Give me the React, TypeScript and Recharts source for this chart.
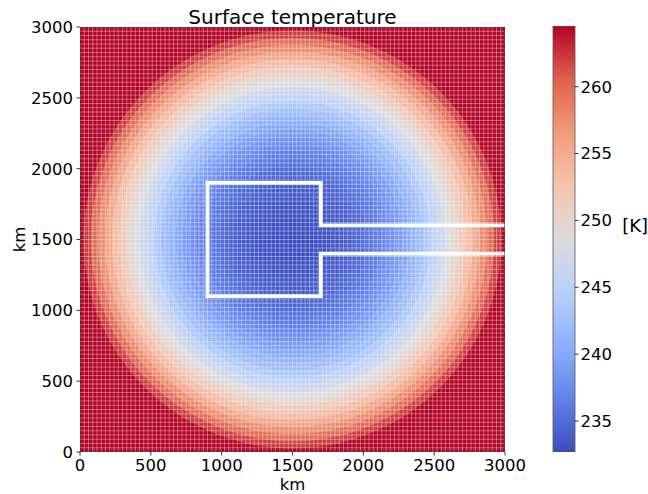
import React from 'react';
import { ScatterChart, Scatter, XAxis, YAxis, BarChart, Bar } from 'recharts';

// ---------- data ----------
// Radial temperature profile: distance from the domain centre (km) -> surface temperature (K)
const profileRadiusKm = [
  0, 50, 100, 150, 200, 250, 300, 350, 400, 450, 500, 550, 600, 650, 700, 750,
  800, 850, 900, 950, 1000, 1050, 1100, 1150, 1200, 1250, 1300, 1350, 1400, 1450, 1500, 2150,
];
const profileTempK = [
  232.7, 232.7, 232.75, 232.8, 232.95, 233.1, 233.4, 233.7, 234.0, 234.5, 235.0, 235.6, 236.2, 237.0, 237.8, 238.7,
  239.7, 240.8, 242.0, 243.4, 244.9, 246.5, 248.2, 249.9, 251.7, 253.6, 255.6, 257.7, 259.8, 262.1, 264.5, 264.5,
];
const CENTER_X_KM = 1500;
const CENTER_Y_KM = 1500;

// white outline (polyline)
const outlineXKm = [3000, 1700, 1700, 900, 900, 1700, 1700, 3000];
const outlineYKm = [1400, 1400, 1100, 1100, 1900, 1900, 1600, 1600];

// axis ticks
const xTicks = [0, 500, 1000, 1500, 2000, 2500, 3000];
const yTicks = [0, 500, 1000, 1500, 2000, 2500, 3000];
const colorbarTicks = [235, 240, 245, 250, 255, 260];
const T_MIN = 232.68;
const T_MAX = 264.54;
const DOMAIN_KM = 3000;
const CELL_KM = 30; // mesh cell size (100 x 100 cells)
const gridEdgesKm = Array.from({ length: DOMAIN_KM / CELL_KM + 1 }, (_, i) => i * CELL_KM);
const colorbarData = [{ name: 'T', range: [T_MIN, T_MAX] }];

// ---------- styling ----------
const FONT = '"DejaVu Sans", Verdana, sans-serif';
const FS = 16.5;
const W = 648;
const H = 494;
const PLOT_LEFT = 80;
const PLOT_RIGHT = 505;
const PLOT_TOP = 27;
const PLOT_BOTTOM = 452;
const PX_PER_KM = (PLOT_RIGHT - PLOT_LEFT) / DOMAIN_KM;
const RING_HALF_KM = 25;

const COOLWARM: number[][] = [
  [59, 76, 192],
  [98, 130, 234],
  [141, 176, 254],
  [184, 208, 249],
  [221, 220, 220],
  [244, 196, 173],
  [244, 154, 123],
  [222, 96, 77],
  [180, 4, 38],
];

function coolwarm(t: number): string {
  let f = (t - T_MIN) / (T_MAX - T_MIN);
  f = Math.max(0, Math.min(1, f));
  const pos = f * (COOLWARM.length - 1);
  const i = Math.min(COOLWARM.length - 2, Math.floor(pos));
  const w = pos - i;
  const a = COOLWARM[i];
  const b = COOLWARM[i + 1];
  const c = a.map((v, k) => Math.round(v + (b[k] - v) * w));
  return `rgb(${c[0]},${c[1]},${c[2]})`;
}

// ---------- derived tables ----------
const rings = profileRadiusKm
  .map((r, i) => ({ x: CENTER_X_KM, y: CENTER_Y_KM, r, t: profileTempK[i] }))
  .reverse();

const verticalGrid: { x: number; y: number }[] = [];
gridEdgesKm.forEach((e, i) => {
  if (i % 2 === 0) verticalGrid.push({ x: e, y: 0 }, { x: e, y: DOMAIN_KM });
  else verticalGrid.push({ x: e, y: DOMAIN_KM }, { x: e, y: 0 });
});
const horizontalGrid: { x: number; y: number }[] = [];
gridEdgesKm.forEach((e, i) => {
  if (i % 2 === 0) horizontalGrid.push({ x: 0, y: e }, { x: DOMAIN_KM, y: e });
  else horizontalGrid.push({ x: DOMAIN_KM, y: e }, { x: 0, y: e });
});
const outline = outlineXKm.map((x, i) => ({ x, y: outlineYKm[i] }));
const frame = [
  { x: 0, y: 0 },
  { x: DOMAIN_KM, y: 0 },
  { x: DOMAIN_KM, y: DOMAIN_KM },
  { x: 0, y: DOMAIN_KM },
  { x: 0, y: 0 },
];

const noShape = () => <g />;
const ringShape = (p: any) => (
  <circle
    cx={p.cx}
    cy={p.cy}
    r={(p.payload.r + RING_HALF_KM) * PX_PER_KM}
    fill={coolwarm(p.payload.t)}
    stroke="none"
  />
);

const tickStyle = { fontSize: FS, fill: '#000', fontFamily: FONT };

export default function App() {
  return (
    <div style={{ position: 'absolute', left: 0, top: 0, width: W, height: H, background: '#fff' }}>
      <div style={{ position: 'absolute', left: 0, top: 0 }}>
        <ScatterChart
          width={W}
          height={H}
          margin={{ top: PLOT_TOP, right: W - PLOT_RIGHT, bottom: 0, left: 0 }}
        >
          <text x={(PLOT_LEFT + PLOT_RIGHT) / 2} y={24} textAnchor="middle" fontSize={20} fontFamily={FONT} fill="#000">
            Surface temperature
          </text>
          <XAxis
            type="number"
            dataKey="x"
            domain={[0, DOMAIN_KM]}
            ticks={xTicks}
            interval={0}
            allowDataOverflow
            height={H - PLOT_BOTTOM}
            tick={tickStyle}
            tickSize={3.5}
            tickMargin={4}
            tickLine={{ stroke: '#000', strokeWidth: 0.8 }}
            axisLine={false}
            label={{ value: 'km', position: 'insideBottom', offset: 4, fontSize: FS, fill: '#000', fontFamily: FONT }}
          />
          <YAxis
            type="number"
            dataKey="y"
            domain={[0, DOMAIN_KM]}
            ticks={yTicks}
            interval={0}
            allowDataOverflow
            width={PLOT_LEFT}
            tick={tickStyle}
            tickSize={3.5}
            tickMargin={3.5}
            tickLine={{ stroke: '#000', strokeWidth: 0.8 }}
            axisLine={false}
            label={{
              value: 'km',
              angle: -90,
              position: 'insideLeft',
              offset: 19,
              fontSize: FS,
              fill: '#000',
              fontFamily: FONT,
              style: { textAnchor: 'middle' },
            }}
          />
          <Scatter data={rings} shape={ringShape} isAnimationActive={false} />
          <Scatter
            data={verticalGrid}
            shape={noShape}
            line={{ stroke: '#fff', strokeWidth: 0.6, strokeOpacity: 0.6 }}
            isAnimationActive={false}
          />
          <Scatter
            data={horizontalGrid}
            shape={noShape}
            line={{ stroke: '#fff', strokeWidth: 0.6, strokeOpacity: 0.6 }}
            isAnimationActive={false}
          />
          <Scatter
            data={outline}
            shape={noShape}
            line={{ stroke: '#fff', strokeWidth: 3.8, strokeLinejoin: 'miter' }}
            isAnimationActive={false}
          />
          <Scatter
            data={frame}
            shape={noShape}
            line={{ stroke: '#000', strokeWidth: 0.8 }}
            isAnimationActive={false}
          />
        </ScatterChart>
      </div>
      <div style={{ position: 'absolute', left: 540, top: 0 }}>
        <BarChart
          width={108}
          height={H}
          data={colorbarData}
          margin={{ top: 26, right: 0, bottom: H - PLOT_BOTTOM, left: 13 }}
          barCategoryGap={0}
        >
          <defs>
            <linearGradient id="coolwarmGrad" x1="0" y1="1" x2="0" y2="0">
              {COOLWARM.map((c, i) => (
                <stop key={i} offset={i / (COOLWARM.length - 1)} stopColor={`rgb(${c[0]},${c[1]},${c[2]})`} />
              ))}
            </linearGradient>
          </defs>
          <XAxis dataKey="name" hide />
          <YAxis
            type="number"
            orientation="right"
            domain={[T_MIN, T_MAX]}
            ticks={colorbarTicks}
            interval={0}
            allowDataOverflow
            width={73}
            tick={tickStyle}
            tickSize={3.5}
            tickMargin={2}
            tickLine={{ stroke: '#000', strokeWidth: 0.8 }}
            axisLine={false}
            label={{
              value: '[K]',
              position: 'insideRight',
              offset: 0,
              dy: -13,
              fontSize: 18,
              fill: '#000',
              fontFamily: FONT,
            }}
          />
          <Bar
            dataKey="range"
            fill="url(#coolwarmGrad)"
            stroke="#555"
            strokeWidth={0.8}
            isAnimationActive={false}
          />
        </BarChart>
      </div>
    </div>
  );
}
